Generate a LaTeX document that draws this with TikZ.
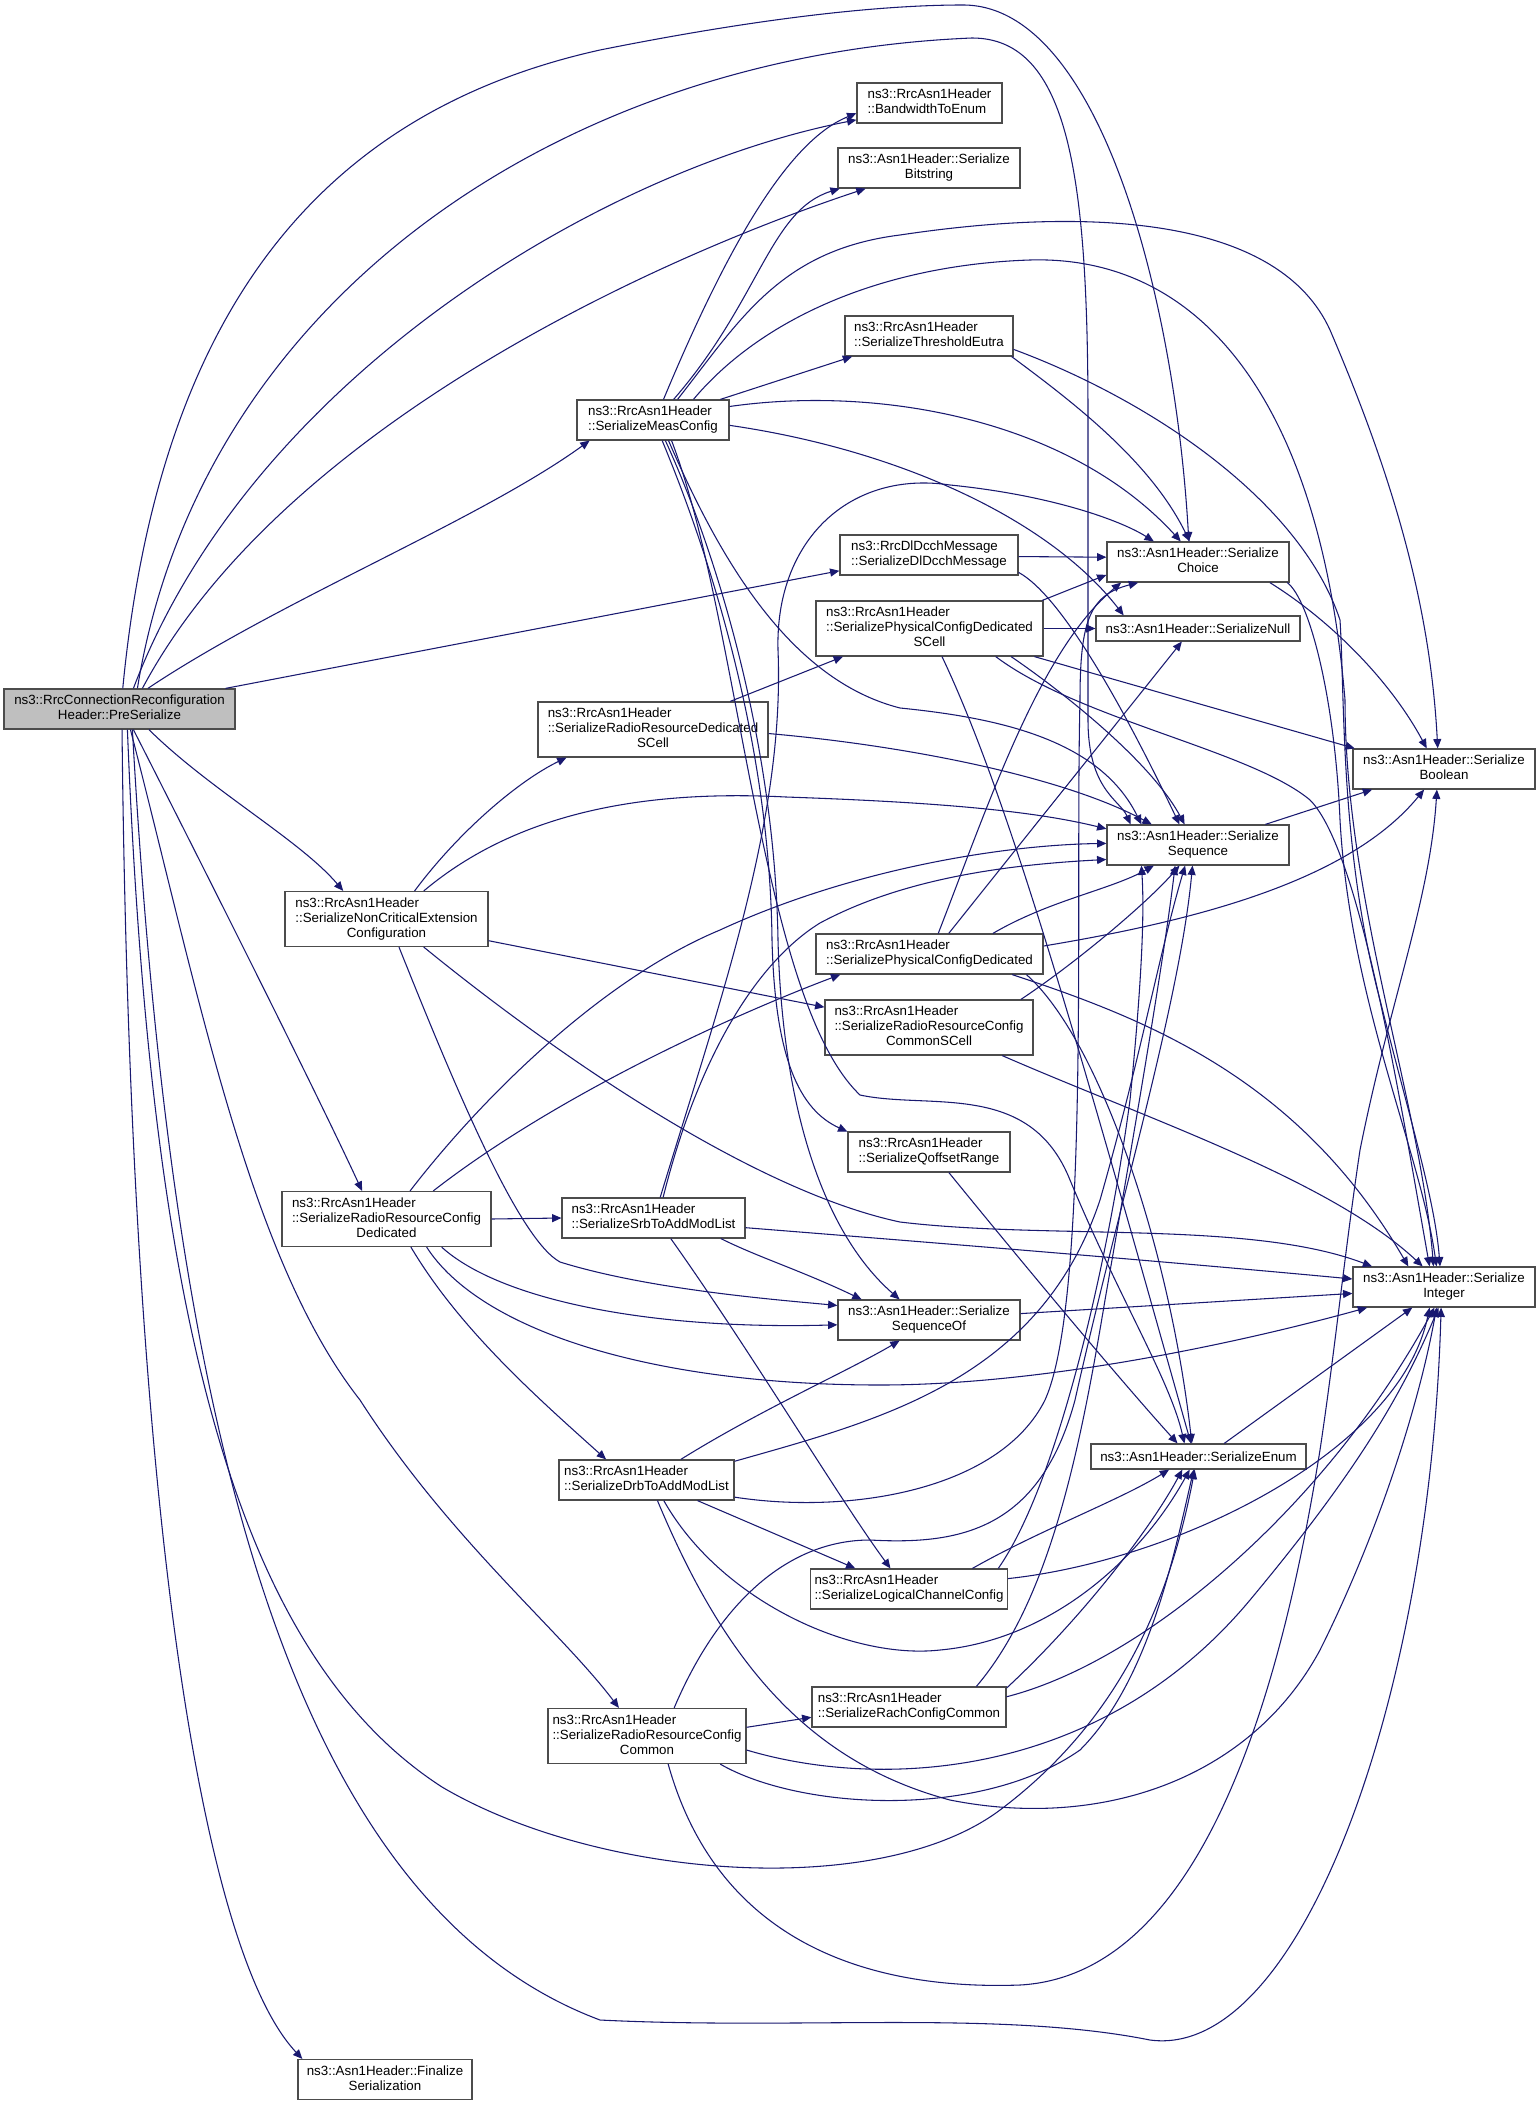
\documentclass[tikz,border=0pt]{standalone}
\usepackage{fontspec}
\setmainfont{Liberation Sans}
\usetikzlibrary{arrows.meta}
\definecolor{edgeblue}{HTML}{191970}
\definecolor{rootgray}{HTML}{BFBFBF}
\newcommand{\twoleft}[2]{\begin{tabular}{@{}l@{}}#1\\#2\end{tabular}}
\newcommand{\twomid}[2]{\begin{tabular}{@{}l@{}}#1\\\multicolumn{1}{@{}c@{}}{#2}\end{tabular}}
\newcommand{\threemid}[3]{\begin{tabular}{@{}l@{}}#1\\#2\\\multicolumn{1}{@{}c@{}}{#3}\end{tabular}}

\begin{document}
\begin{tikzpicture}[x=0.75pt,y=-0.75pt,
		fn/.style={draw=black!70,line width=0.9pt,fill=white,inner xsep=3pt,inner ysep=0pt,minimum height=30pt,font=\fontsize{10}{11.25}\selectfont},
		tall/.style={minimum height=41.25pt},
		flat/.style={minimum height=18.75pt},
		boxw/.style={minimum width=#1*0.75pt},
		root/.style={fn,fill=rootgray},
		call/.style={draw=edgeblue,line width=0.8pt,-{Triangle[length=7pt,width=6pt]}}]
			\fill[white] (0,0) rectangle (1540,2104);
			\useasboundingbox (0,0) rectangle (1540,2104);
			%% functions
			\node[root,boxw=231] (pre) at (119.5,709) {\twomid{ns3::RrcConnectionReconfiguration}{Header::PreSerialize}};
			\node[fn,boxw=145] (bw) at (929.5,103) {\twoleft{ns3::RrcAsn1Header}{::BandwidthToEnum}};
			\node[fn,boxw=182] (bits) at (929,168) {\twomid{ns3::Asn1Header::Serialize}{Bitstring}};
			\node[fn,boxw=168] (thr) at (929,336) {\twoleft{ns3::RrcAsn1Header}{::SerializeThresholdEutra}};
			\node[fn,boxw=152] (meas) at (653,420) {\twoleft{ns3::RrcAsn1Header}{::SerializeMeasConfig}};
			\node[fn,boxw=178] (dcch) at (929,555) {\twoleft{ns3::RrcDlDcchMessage}{::SerializeDlDcchMessage}};
			\node[fn,boxw=182] (choice) at (1198,562) {\twomid{ns3::Asn1Header::Serialize}{Choice}};
			\node[fn,flat,boxw=204] (null) at (1198,628.5) {ns3::Asn1Header::SerializeNull};
			\node[fn,tall,boxw=227] (physcell) at (929.5,628.5) {\threemid{ns3::RrcAsn1Header}{::SerializePhysicalConfigDedicated}{SCell}};
			\node[fn,tall,boxw=230] (rrdscell) at (653,729.5) {\threemid{ns3::RrcAsn1Header}{::SerializeRadioResourceDedicated}{SCell}};
			\node[fn,boxw=182] (bool) at (1444,769) {\twomid{ns3::Asn1Header::Serialize}{Boolean}};
			\node[fn,boxw=182] (seq) at (1198,845) {\twomid{ns3::Asn1Header::Serialize}{Sequence}};
			\node[fn,tall,boxw=203] (nce) at (386.5,919) {\threemid{ns3::RrcAsn1Header}{::SerializeNonCriticalExtension}{Configuration}};
			\node[fn,boxw=227] (phys) at (929.5,954) {\twoleft{ns3::RrcAsn1Header}{::SerializePhysicalConfigDedicated}};
			\node[fn,tall,boxw=208] (cscell) at (929,1027.5) {\threemid{ns3::RrcAsn1Header}{::SerializeRadioResourceConfig}{CommonSCell}};
			\node[fn,boxw=162] (qoff) at (929,1152) {\twoleft{ns3::RrcAsn1Header}{::SerializeQoffsetRange}};
			\node[fn,tall,boxw=209] (rrd) at (386.5,1219) {\threemid{ns3::RrcAsn1Header}{::SerializeRadioResourceConfig}{Dedicated}};
			\node[fn,boxw=183] (srb) at (653.5,1218) {\twoleft{ns3::RrcAsn1Header}{::SerializeSrbToAddModList}};
			\node[fn,boxw=182] (seqof) at (929,1320) {\twomid{ns3::Asn1Header::Serialize}{SequenceOf}};
			\node[fn,boxw=182] (int) at (1444,1287) {\twomid{ns3::Asn1Header::Serialize}{Integer}};
			\node[fn,flat,boxw=215] (enum) at (1198.5,1456.5) {ns3::Asn1Header::SerializeEnum};
			\node[fn,boxw=175] (drb) at (646.5,1480) {\twoleft{ns3::RrcAsn1Header}{::SerializeDrbToAddModList}};
			\node[fn,boxw=196] (lcc) at (909,1589) {\twoleft{ns3::RrcAsn1Header}{::SerializeLogicalChannelConfig}};
			\node[fn,boxw=194] (rach) at (909,1707) {\twoleft{ns3::RrcAsn1Header}{::SerializeRachConfigCommon}};
			\node[fn,tall,boxw=198] (rrc) at (647,1736) {\threemid{ns3::RrcAsn1Header}{::SerializeRadioResourceConfig}{Common}};
			\node[fn,boxw=174] (fin) at (385,2079.5) {\twomid{ns3::Asn1Header::Finalize}{Serialization}};
			%% PreSerialize
			\draw[call] (pre.81) .. controls (160,300) and (330,110) .. (600,50) .. controls (760,18) and (880,5) .. (963,5) .. controls (1100,5) and (1175,300) .. (choice.114);
			\draw[call] (pre.49) .. controls (200,300) and (560,55) .. (972,38) .. controls (1070,38) and (1088,180) .. (1088,420) -- (1088,720) .. controls (1088,790) and (1120,800) .. (seq.163);
			\draw[call] (pre.56) .. controls (250,380) and (600,170) .. (bw.193);
			\draw[call] (pre.42) .. controls (280,430) and (650,260) .. (bits.198);
			\draw[call] (pre.36) .. controls (280,600) and (480,520) .. (meas.198);
			\draw[call] (pre.11) -- (dcch.190);
			\draw[call] (pre.-35) .. controls (210,790) and (300,840) .. (nce.147);
			\draw[call] (pre.-56) .. controls (220,900) and (320,1100) .. (rrd.131);
			\draw[call] (pre.-62) .. controls (200,1000) and (250,1260) .. (360,1400) .. controls (450,1540) and (560,1630) .. (rrc.135);
			\draw[call] (pre.-83) .. controls (130,1500) and (200,1950) .. (fin.166);
			\draw[call] (pre.-69) .. controls (150,1300) and (230,1650) .. (442,1787) .. controls (600,1880) and (880,1900) .. (1000,1810) .. controls (1120,1720) and (1170,1600) .. (enum.254);
			\draw[call] (pre.-58) .. controls (170,1400) and (280,1900) .. (600,2020) .. controls (800,2030) and (1000,2010) .. (1150,2040) .. controls (1300,2060) and (1430,1700) .. (int.262);
			%% SerializeMeasConfig
			\draw[call] (meas.63) .. controls (730,240) and (790,140) .. (bw.188);
			\draw[call] (meas.45) .. controls (760,300) and (770,210) .. (bits.193);
			\draw[call] (meas.40) .. controls (740,320) and (780,250) .. (900,235) .. controls (1100,205) and (1280,220) .. (1330,330) .. controls (1390,470) and (1430,600) .. (bool.107);
			\draw[call] (meas.27) .. controls (760,320) and (880,265) .. (1030,260) .. controls (1200,255) and (1320,400) .. (1345,700) .. controls (1345,900) and (1420,1100) .. (int.117);
			\draw[call] (meas.17) -- (thr.195);
			\draw[call] (meas.10) .. controls (880,385) and (1070,420) .. (choice.130);
			\draw[call] (meas.-4) .. controls (900,450) and (1050,520) .. (null.170);
			\draw[call] (meas.-53) .. controls (720,560) and (790,680) .. (900,708) .. controls (1000,718) and (1100,740) .. (seq.160);
			\draw[call] (meas.-59) .. controls (720,560) and (775,750) .. (778,940) .. controls (782,1100) and (820,1230) .. (seqof.145);
			\draw[call] (meas.-66) .. controls (720,580) and (770,760) .. (772,940) .. controls (775,1060) and (800,1110) .. (qoff.166);
			\draw[call] (meas.-48) .. controls (740,620) and (760,1000) .. (860,1095) .. controls (930,1110) and (1030,1080) .. (1070,1180) .. controls (1120,1300) and (1170,1380) .. (enum.137);
			%% SerializeThresholdEutra, SerializeDlDcchMessage
			\draw[call] (thr.-14) .. controls (1070,400) and (1150,460) .. (choice.112);
			\draw[call] (thr.-9) .. controls (1150,400) and (1300,500) .. (1340,620) .. controls (1345,700) and (1340,850) .. (1380,1000) .. controls (1410,1120) and (1435,1200) .. (int.101);
			\draw[call] (dcch.-1) -- (choice.177);
			\draw[call] (dcch.-11) .. controls (1060,595) and (1120,700) .. (seq.132);
			%% SerializePhysicalConfigDedicatedSCell
			\draw[call] (physcell.14) -- (choice.188);
			\draw[call] (physcell.0) -- (null.180);
			\draw[call] (physcell.-15) -- (bool.167);
			\draw[call] (physcell.-19) .. controls (1060,690) and (1150,760) .. (seq.123);
			\draw[call] (physcell.-23) .. controls (1080,720) and (1250,750) .. (1310,800) .. controls (1360,850) and (1400,1100) .. (int.125);
			\draw[call] (physcell.-66) .. controls (1010,800) and (1080,1050) .. (enum.120);
			%% SerializeRadioResourceDedicatedSCell
			\draw[call] (rrdscell.20) -- (physcell.198);
			\draw[call] (rrdscell.-2) .. controls (900,745) and (1060,775) .. (seq.156);
			%% SerializeNonCriticalExtensionConfiguration
			\draw[call] (nce.45) .. controls (460,830) and (520,780) .. (rrdscell.198);
			\draw[call] (nce.37) .. controls (520,810) and (650,790) .. (786,797) .. controls (930,802) and (1030,810) .. (seq.170);
			\draw[call] (nce.-12) -- (cscell.169);
			\draw[call] (nce.-66) .. controls (460,1100) and (520,1240) .. (560,1262) .. controls (650,1290) and (780,1300) .. (seqof.171);
			\draw[call] (nce.-37) .. controls (550,1050) and (750,1190) .. (900,1222) .. controls (1050,1240) and (1250,1220) .. (int.164);
			%% SerializeRadioResourceConfigCommonSCell
			\draw[call] (cscell.17) .. controls (1080,960) and (1150,900) .. (seq.228);
			\draw[call] (cscell.-21) .. controls (1150,1120) and (1330,1180) .. (int.136);
			%% SerializePhysicalConfigDedicated
			\draw[call] (phys.67) .. controls (990,800) and (1040,650) .. (choice.195);
			\draw[call] (phys.47) -- (null.219);
			\draw[call] (phys.18) .. controls (1050,900) and (1110,890) .. (seq.205);
			\draw[call] (phys.4) .. controls (1200,920) and (1350,880) .. (bool.226);
			\draw[call] (phys.-14) .. controls (1150,1020) and (1300,1080) .. (int.150);
			\draw[call] (phys.-12) .. controls (1100,1040) and (1170,1250) .. (enum.117);
			%% SerializeQoffsetRange
			\draw[call] (qoff.-46) .. controls (1020,1260) and (1120,1380) .. (enum.148);
			%% SerializeRadioResourceConfigDedicated
			\draw[call] (rrd.0) -- (srb.180);
			\draw[call] (rrd.-49) .. controls (460,1330) and (540,1400) .. (drb.153);
			\draw[call] (rrd.50) .. controls (480,1100) and (600,980) .. (720,930) .. controls (850,870) and (1000,845) .. (seq.179);
			\draw[call] (rrd.31) .. controls (550,1100) and (720,1020) .. (phys.193);
			\draw[call] (rrd.-27) .. controls (500,1300) and (650,1330) .. (seqof.183);
			\draw[call] (rrd.-35) .. controls (480,1330) and (650,1385) .. (880,1385) .. controls (1050,1385) and (1250,1340) .. (int.195);
			%% SerializeSrbToAddModList
			\draw[call] (srb.-6) .. controls (900,1240) and (1150,1260) .. (int.175);
			\draw[call] (srb.-17) .. controls (760,1258) and (800,1270) .. (seqof.163);
			\draw[call] (srb.-50) .. controls (750,1350) and (840,1500) .. (lcc.132);
			\draw[call] (srb.72) .. controls (720,1000) and (785,820) .. (778,650) .. controls (775,540) and (850,470) .. (950,485) .. controls (1050,495) and (1120,520) .. (choice.155);
			\draw[call] (srb.65) .. controls (700,1050) and (760,960) .. (820,923) .. controls (900,880) and (1000,865) .. (seq.189);
			%% SerializeDrbToAddModList
			\draw[call] (drb.31) .. controls (760,1410) and (850,1370) .. (seqof.215);
			\draw[call] (drb.12) .. controls (880,1420) and (1040,1380) .. (1100,1200) .. controls (1140,1060) and (1160,950) .. (seq.238);
			\draw[call] (drb.-11) .. controls (850,1515) and (1000,1490) .. (1045,1400) .. controls (1090,1300) and (1075,900) .. (1080,700) .. controls (1080,620) and (1090,595) .. (choice.199);
			\draw[call] (drb.-22) -- (lcc.159);
			\draw[call] (drb.-50) .. controls (720,1600) and (850,1660) .. (940,1650) .. controls (1050,1640) and (1140,1560) .. (enum.236);
			\draw[call] (drb.-62) .. controls (720,1650) and (800,1760) .. (950,1800) .. controls (1100,1830) and (1250,1780) .. (1320,1650) .. controls (1380,1530) and (1420,1400) .. (int.250);
			%% SerializeLogicalChannelConfig
			\draw[call] (lcc.13) .. controls (1060,1480) and (1110,1250) .. (1130,1100) .. controls (1140,1000) and (1145,920) .. (seq.200);
			\draw[call] (lcc.18) .. controls (1040,1530) and (1120,1500) .. (enum.204);
			\draw[call] (lcc.6) .. controls (1180,1560) and (1400,1450) .. (int.235);
			%% SerializeRachConfigCommon
			\draw[call] (rach.17) .. controls (1050,1600) and (1080,1450) .. (1105,1300) .. controls (1140,1100) and (1165,950) .. (seq.222);
			\draw[call] (rach.11) .. controls (1080,1620) and (1150,1530) .. (enum.219);
			\draw[call] (rach.6) .. controls (1150,1660) and (1330,1500) .. (int.245);
			%% SerializeRadioResourceConfigCommon
			\draw[call] (rrc.5) -- (rach.186);
			\draw[call] (rrc.46) .. controls (720,1600) and (790,1540) .. (870,1540) .. controls (960,1545) and (1040,1530) .. (1075,1400) .. controls (1120,1200) and (1180,1000) .. (seq.255);
			\draw[call] (rrc.-21) .. controls (800,1810) and (980,1820) .. (1080,1750) .. controls (1150,1680) and (1175,1550) .. (enum.250);
			\draw[call] (rrc.-8) .. controls (880,1790) and (1100,1780) .. (1250,1600) .. controls (1350,1480) and (1400,1400) .. (int.255);
			\draw[call] (rrc.-53) .. controls (720,1950) and (880,1990) .. (1020,1985) .. controls (1200,1975) and (1280,1700) .. (1320,1450) .. controls (1335,1350) and (1345,1250) .. (1360,1150) .. controls (1390,1000) and (1430,900) .. (bool.251);
			%% Asn1Header helpers
			\draw[call] (choice.-16) .. controls (1330,620) and (1390,680) .. (bool.130);
			\draw[call] (choice.-13) .. controls (1310,600) and (1335,700) .. (1340,820) .. controls (1350,1000) and (1420,1150) .. (int.110);
			\draw[call] (seq.17) -- (bool.196);
			\draw[call] (seqof.4) -- (int.184);
			\draw[call] (enum.27) -- (int.213);
		\end{tikzpicture}
\end{document}
